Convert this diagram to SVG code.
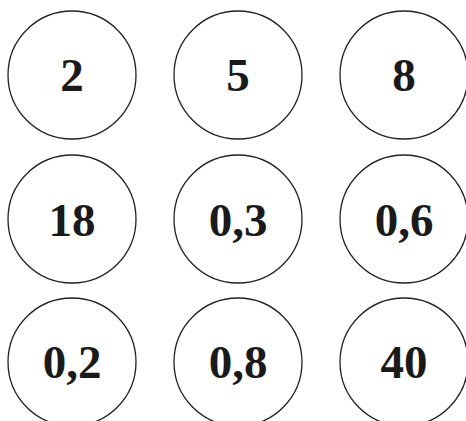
<svg xmlns="http://www.w3.org/2000/svg" width="466" height="421" viewBox="0 0 466 421">
<style>
.c{fill:#fff;stroke:#222;stroke-width:1.3}
.t{font-family:"Liberation Serif","DejaVu Serif",serif;font-weight:bold;font-size:47px;fill:#1a1a1a;text-anchor:middle}
</style>
<rect width="466" height="421" fill="#fff"/>
<g id="connectors"></g>
<g id="n1"><circle class="c" cx="72" cy="75" r="64"/><text class="t" x="72" y="91">2</text></g>
<g id="n2"><circle class="c" cx="238" cy="75" r="64"/><text class="t" x="238" y="91">5</text></g>
<g id="n3"><circle class="c" cx="404" cy="75" r="64"/><text class="t" x="404" y="91">8</text></g>
<g id="n4"><circle class="c" cx="72" cy="219" r="64"/><text class="t" x="72" y="236">18</text></g>
<g id="n5"><circle class="c" cx="238" cy="219" r="64"/><text class="t" x="238" y="236">0,3</text></g>
<g id="n6"><circle class="c" cx="404" cy="219" r="64"/><text class="t" x="404" y="236">0,6</text></g>
<g id="n7"><circle class="c" cx="72" cy="362" r="64"/><text class="t" x="72" y="378">0,2</text></g>
<g id="n8"><circle class="c" cx="238" cy="362" r="64"/><text class="t" x="238" y="378">0,8</text></g>
<g id="n9"><circle class="c" cx="404" cy="362" r="64"/><text class="t" x="404" y="378">40</text></g>
</svg>
